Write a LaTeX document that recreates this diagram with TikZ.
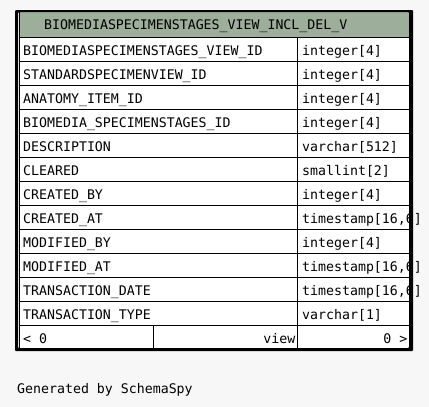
\documentclass[tikz,border=0pt]{standalone}
\usepackage{fontspec}
\setmonofont{DejaVu Sans Mono}
\begin{document}
\begin{tikzpicture}[x=1pt,y=-1pt,
  cell/.style={anchor=base west,inner sep=0pt,font=\ttfamily\fontsize{13.25}{15}\selectfont},
  cellr/.style={anchor=base east,inner sep=0pt,font=\ttfamily\fontsize{13.25}{15}\selectfont},
  grid/.style={line width=1pt,black}]
\definecolor{pagebg}{HTML}{F7F7F7}
\definecolor{headfill}{HTML}{9DAE9A}
\useasboundingbox (0,0) rectangle (429,407);
\fill[pagebg] (0,0) rectangle (429,407);
% table body
\fill[white] (18,12) rectangle (409,348);
\fill[headfill] (19.5,12) rectangle (409,37);
\node[cell] (title) at (44,29) {BIOMEDIASPECIMENSTAGES\_VIEW\_INCL\_DEL\_V};
% columns: name / type
\foreach \i/\n/\t in {
  0/BIOMEDIASPECIMENSTAGES\_VIEW\_ID/integer[4],
  1/STANDARDSPECIMENVIEW\_ID/integer[4],
  2/ANATOMY\_ITEM\_ID/integer[4],
  3/BIOMEDIA\_SPECIMENSTAGES\_ID/integer[4],
  4/DESCRIPTION/varchar[512],
  5/CLEARED/smallint[2],
  6/CREATED\_BY/integer[4],
  7/CREATED\_AT/{timestamp[16,6]},
  8/MODIFIED\_BY/integer[4],
  9/MODIFIED\_AT/{timestamp[16,6]},
  10/TRANSACTION\_DATE/{timestamp[16,6]},
  11/TRANSACTION\_TYPE/varchar[1]} {
  \node[cell] (name\i) at (23,55+24*\i) {\n};
  \node[cell] (type\i) at (302,55+24*\i) {\t};
  \draw[grid] (19,37+24*\i) -- (409,37+24*\i);
}
\draw[grid] (19,325) -- (409,325);
\draw[grid] (19.5,12) -- (19.5,348);
\draw[grid] (297.5,37) -- (297.5,348);
\draw[grid] (153.5,325) -- (153.5,348);
% footer row
\node[cell] (rows) at (23,343) {< 0};
\node[cellr] (kind) at (295.5,343) {view};
\node[cellr] (refs) at (407.5,343) {0 >};
% outer frame with heavy shadow edges
\fill[black,even odd rule,rounded corners=1pt] (15,10) rectangle (413,351)
  (18,12) rectangle (409,348);
\node[cell] (credit) at (17,393) {Generated by SchemaSpy};
\end{tikzpicture}
\end{document}
